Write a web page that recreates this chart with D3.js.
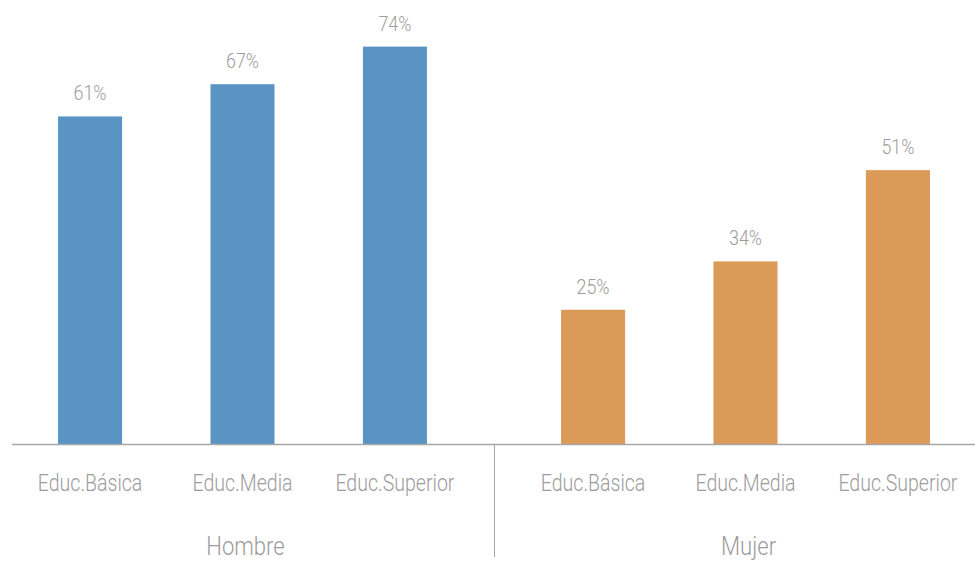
<!DOCTYPE html>
<html>
<head>
<meta charset="utf-8">
<script src="https://cdn.jsdelivr.net/npm/d3@7"></script>
<style>
  body { margin: 0; background: #fff; }
  text { font-family: "Roboto", "Liberation Sans", sans-serif; font-weight: 300; fill: #9c9c9c; }
</style>
</head>
<body>
<script>
// chart data
var groups = ["Hombre", "Mujer"];
var categories = ["Educ.Básica", "Educ.Media", "Educ.Superior"];
var hombreValues = [61, 67, 74];
var mujerValues = [25, 34, 51];
var colors = ["#5a94c5", "#dc9a58"];

var w = 975, h = 562;
var baseY = 444;
var squeeze = 0.85; // condensed look

var rows = [];
groups.forEach(function(g, gi){
    var vals = gi === 0 ? hombreValues : mujerValues;
    categories.forEach(function(c, ci){
        rows.push({group: g, cat: c, value: vals[ci], gi: gi});
    });
});

var svg = d3.select("body")
    .append("svg")
    .attr("width", w)
    .attr("height", h);

// outer scale for the two groups (plot area is a bit wider than the picture)
var x0 = d3.scaleBand()
    .domain(groups)
    .range([-9, 997]);

var x1 = d3.scaleBand()
    .domain(categories)
    .range([0, x0.bandwidth()])
    .paddingInner(0.58)
    .paddingOuter(0.44);

var y = d3.scaleLinear()
    .domain([0, 100])
    .range([baseY, baseY - 537]);

function cx(d){ return x0(d.group) + x1(d.cat) + x1.bandwidth() / 2; }

// bars
svg.selectAll(".bar")
    .data(rows)
    .enter()
    .append("rect")
    .attr("class", "bar")
    .attr("x", function(d){ return x0(d.group) + x1(d.cat); })
    .attr("width", x1.bandwidth())
    .attr("y", function(d){ return y(d.value); })
    .attr("height", function(d){ return baseY - y(d.value); })
    .attr("fill", function(d){ return colors[d.gi]; });

// value labels
svg.selectAll(".val")
    .data(rows)
    .enter()
    .append("text")
    .attr("class", "val")
    .attr("transform", function(d){
        return "translate(" + cx(d) + "," + (y(d.value) - 16) + ") scale(" + squeeze + ",1)";
    })
    .attr("text-anchor", "middle")
    .style("font-size", "21px")
    .text(function(d){ return d.value + "%"; });

// axis line
svg.append("line")
    .attr("x1", 12)
    .attr("x2", w)
    .attr("y1", baseY + 0.5)
    .attr("y2", baseY + 0.5)
    .attr("stroke", "#a6a6a6")
    .attr("stroke-width", 1.5);

// divider between groups
svg.append("line")
    .attr("x1", x0("Mujer") + 0.5)
    .attr("x2", x0("Mujer") + 0.5)
    .attr("y1", baseY)
    .attr("y2", 557)
    .attr("stroke", "#a6a6a6")
    .attr("stroke-width", 1);

// category labels
svg.selectAll(".cat")
    .data(rows)
    .enter()
    .append("text")
    .attr("class", "cat")
    .attr("transform", function(d){
        return "translate(" + cx(d) + ",491) scale(" + squeeze + ",1)";
    })
    .attr("text-anchor", "middle")
    .style("font-size", "23px")
    .text(function(d){ return d.cat; });

// group labels
svg.selectAll(".grp")
    .data(groups)
    .enter()
    .append("text")
    .attr("class", "grp")
    .attr("transform", function(d){
        return "translate(" + (x0(d) + x0.bandwidth() / 2 + 3) + ",555) scale(" + squeeze + ",1)";
    })
    .attr("text-anchor", "middle")
    .style("font-size", "26px")
    .text(function(d){ return d; });
</script>
</body>
</html>
